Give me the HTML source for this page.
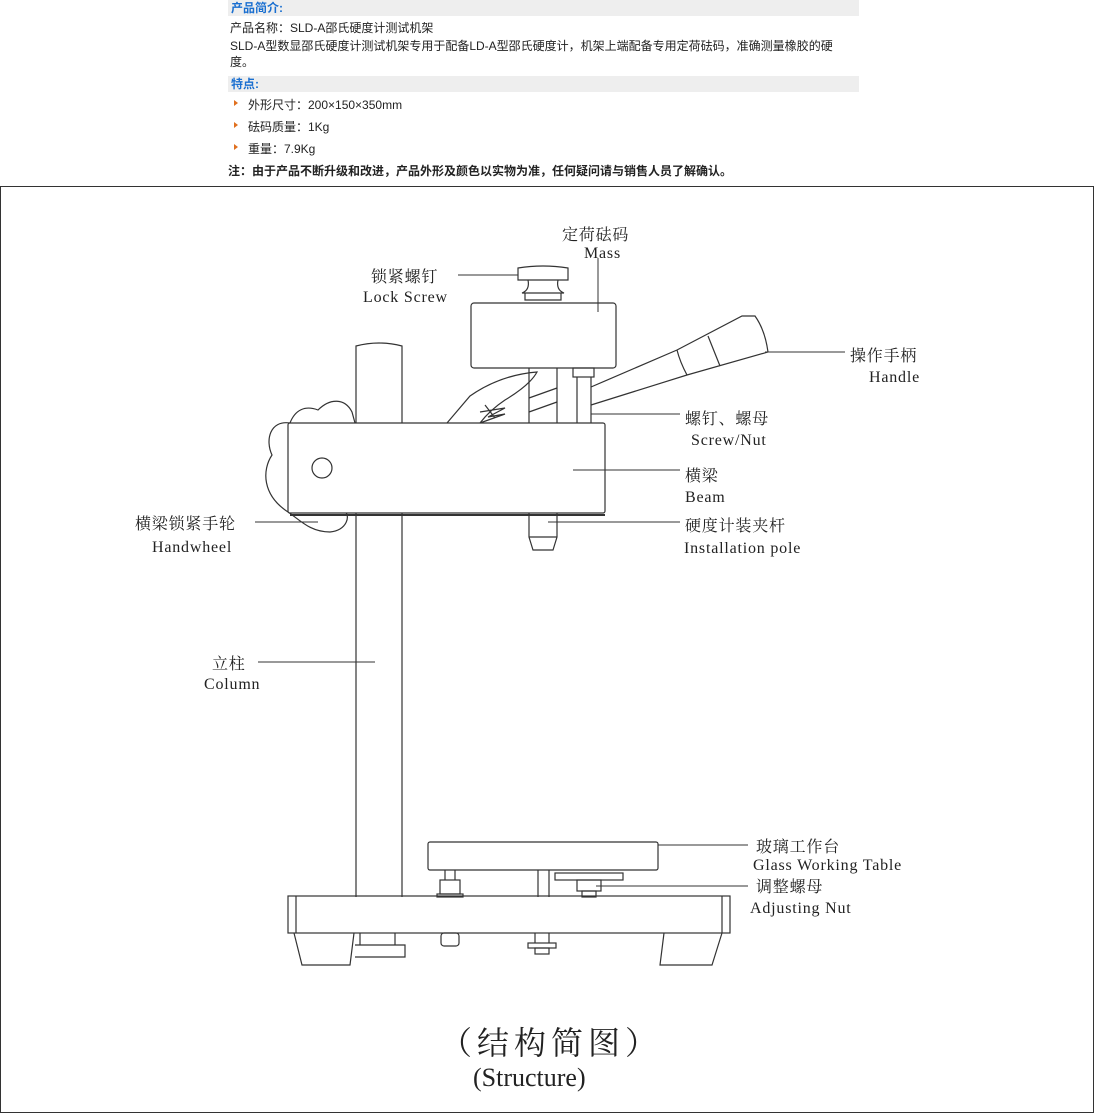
<!DOCTYPE html>
<html><head><meta charset="utf-8"><style>
body{margin:0;width:1094px;height:1114px;background:#fff;position:relative;overflow:hidden;font-family:"Liberation Sans","Noto Sans CJK SC",sans-serif;}
.h{position:absolute;left:228px;width:628px;background:#eeeeee;color:#1a6fd0;font-weight:bold;font-size:12px;line-height:16px;padding-left:3px;}
.t{position:absolute;left:230px;font-size:12px;color:#222;line-height:16px;}
.b{position:absolute;left:234px;width:0;height:0;border-left:4px solid #e07020;border-top:3px solid transparent;border-bottom:3px solid transparent;}
</style></head><body>
<div class="h" style="top:0">产品简介:</div>
<div class="t" style="top:20px">产品名称：SLD-A邵氏硬度计测试机架</div>
<div class="t" style="top:38px;width:622px">SLD-A型数显邵氏硬度计测试机架专用于配备LD-A型邵氏硬度计，机架上端配备专用定荷砝码，准确测量橡胶的硬度。</div>
<div class="h" style="top:76px">特点:</div>
<div class="b" style="top:100px"></div><div class="t" style="top:97px;left:248px">外形尺寸：200×150×350mm</div>
<div class="b" style="top:122px"></div><div class="t" style="top:119px;left:248px">砝码质量：1Kg</div>
<div class="b" style="top:144px"></div><div class="t" style="top:141px;left:248px">重量：7.9Kg</div>
<div class="t" style="top:163px;font-weight:bold;left:228px">注：由于产品不断升级和改进，产品外形及颜色以实物为准，任何疑问请与销售人员了解确认。</div>
<svg style="position:absolute;left:0;top:0" width="1094" height="1114" viewBox="0 0 1094 1114">
<rect x="0.5" y="186.5" width="1093" height="926" fill="none" stroke="#333"/>
<g fill="none" stroke="#333" stroke-width="1.2">
<path d="M290 423 C270 420 265 440 272 455 C262 470 262 495 288 512 C300 520 310 532 330 532 C348 530 350 515 345 512 M290 423 C295 410 305 405 318 410 C330 398 345 398 352 412 L355 423"/>
<path d="M356 897 L356 513 M402 513 L402 897 M356 423 L356 346 Q379 340 402 346 L402 423"/>
<rect x="288" y="423" width="317" height="90" rx="2" fill="#fff"/>
<line x1="290" y1="515" x2="605" y2="515" stroke-width="2"/>
<circle cx="322" cy="468" r="10"/>
<rect x="471" y="303" width="145" height="65" rx="3"/>
<path d="M518 280 L568 280 L568 268 Q543 264 518 268 Z"/>
<path d="M528 280 Q530 290 522 293 L564 293 Q556 290 558 280 M525 293 L525 300 L561 300 L561 293"/>
<path d="M529 368 L529 423 M557 368 L557 423 M577 377 L577 423 M591 377 L591 423"/>
<rect x="573" y="368" width="21" height="9"/>
<path d="M591 387 L677 350 M591 405 L687 375 M677 350 L742 316 L755 316 Q765 330 768 352 L687 375 Q680 362 677 350 M708 336 L720 366"/>
<path d="M529 398 L557 388 M529 412 L557 402"/>
<path d="M447 423 L470 396 Q500 375 537 372 Q530 385 505 400 Q490 410 480 423 M485 405 L495 418 M480 412 L505 408 L488 417 L505 414 L480 423"/>
<path d="M529 513 L529 537 L533 550 L553 550 L557 537 L557 513 M529 537 L557 537"/>
<rect x="428" y="842" width="230" height="28" rx="2"/>
<path d="M538 870 L538 897 M549 870 L549 897"/>
<rect x="555" y="873" width="68" height="7"/>
<rect x="577" y="880" width="24" height="11"/>
<rect x="582" y="891" width="14" height="6"/>
<path d="M445 870 L445 880 M455 870 L455 880"/><rect x="440" y="880" width="20" height="14"/><rect x="437" y="894" width="26" height="3"/>
<rect x="288" y="896" width="442" height="37"/>
<path d="M296 896 L296 933 M722 896 L722 933"/>
<path d="M294 933 L302 965 L350 965 L354 933 M664 933 L660 965 L712 965 L722 933"/>
<path d="M360 933 L360 945 L395 945 L395 933 M355 945 L405 945 L405 957 L355 957"/>
<rect x="441" y="933" width="18" height="13" rx="3"/>
<path d="M535 933 L535 943 M549 933 L549 943"/><rect x="528" y="943" width="28" height="5"/><rect x="535" y="948" width="14" height="6"/>
</g>
<g stroke="#333" stroke-width="1">
<line x1="458" y1="275" x2="518" y2="275"/>
<line x1="598" y1="258" x2="598" y2="312"/>
<line x1="765" y1="352" x2="845" y2="352"/>
<line x1="591" y1="414" x2="680" y2="414"/>
<line x1="573" y1="470" x2="680" y2="470"/>
<line x1="548" y1="522" x2="680" y2="522"/>
<line x1="255" y1="522" x2="318" y2="522"/>
<line x1="258" y1="662" x2="375" y2="662"/>
<line x1="658" y1="845" x2="748" y2="845"/>
<line x1="596" y1="886" x2="748" y2="886"/>
</g>
<g font-family="'Liberation Serif','Noto Serif CJK SC',serif" font-size="16" fill="#222" letter-spacing="0.8">
<text x="562" y="240">定荷砝码</text><text x="584" y="258">Mass</text>
<text x="371" y="282">锁紧螺钉</text><text x="363" y="302">Lock Screw</text>
<text x="850" y="361">操作手柄</text><text x="869" y="382">Handle</text>
<text x="685" y="424">螺钉、螺母</text><text x="691" y="445">Screw/Nut</text>
<text x="685" y="481">横梁</text><text x="685" y="502">Beam</text>
<text x="685" y="531">硬度计装夹杆</text><text x="684" y="553">Installation pole</text>
<text x="135" y="529">横梁锁紧手轮</text><text x="152" y="552">Handwheel</text>
<text x="212" y="669">立柱</text><text x="204" y="689">Column</text>
<text x="756" y="852">玻璃工作台</text><text x="753" y="870">Glass Working Table</text>
<text x="756" y="892">调整螺母</text><text x="750" y="913">Adjusting Nut</text>
<text x="440" y="1054" font-size="32" letter-spacing="5">（结构简图）</text>
<text x="473" y="1086" font-size="26" letter-spacing="0">(Structure)</text>
</g>
</svg>
</body></html>
